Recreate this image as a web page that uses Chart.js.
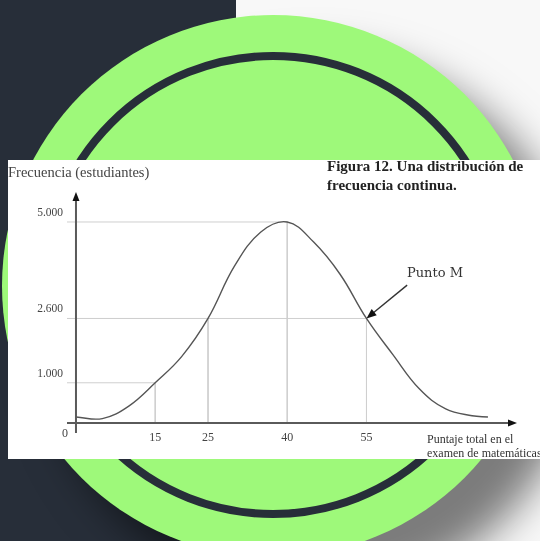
<!DOCTYPE html>
<html>
<head>
<meta charset="utf-8">
<script src="https://cdn.jsdelivr.net/npm/chart.js@4.4.1/dist/chart.umd.min.js"></script>
<style>
  html, body { margin: 0; padding: 0; }
  body { width: 540px; height: 541px; overflow: hidden; position: relative; background: #f8f8f8; }
  .dark { position: absolute; left: 0; top: 0; width: 236px; height: 541px; background: #272e39; }
  .circle { position: absolute; left: 2px; top: 15px; width: 542px; height: 542px; border-radius: 50%;
            background: #9ef97a; box-shadow: 40px 40px 40px rgba(0,0,0,.5); }
  .ring { position: absolute; left: 40px; top: 52px; width: 466px; height: 466px; border-radius: 50%;
          border: 8px solid #272e39; box-sizing: border-box; }
  .panel { position: absolute; left: 8px; top: 160px; width: 532px; height: 299px; background: #fff; overflow: hidden; }
</style>
</head>
<body>
<div class="dark"></div>
<div class="circle"></div>
<div class="ring"></div>
<div class="panel"><canvas id="curve" width="532" height="299"></canvas></div>

<script>
// puntaje (x) y frecuencia (y)
const scores   = [0, 5, 10, 15, 20, 25, 30, 35, 40, 45, 50, 55, 60, 65, 70, 75, 78];
const students = [150, 110, 420, 1000, 1650, 2600, 3900, 4750, 5000, 4500, 3700, 2600, 1700, 850, 350, 180, 150];

// líneas de referencia (punto de la curva marcado en cada eje)
const markX = [15, 25, 40, 55];
const markY = [1000, 2600, 5000, 2600];

const xTicks = [15, 25, 40, 55];
const yTicks = [1000, 2600, 5000];

const X_MIN = -1.7, X_MAX = 83.5;
const Y_MIN = -249, Y_MAX = 5746;

const fmt = v => String(v).replace(/\B(?=(\d{3})+(?!\d))/g, ".");

const refSets = markX.map((mx, i) => ({
  data: [{ x: X_MIN, y: markY[i] }, { x: mx, y: markY[i] }, { x: mx, y: 0 }],
  borderColor: "#cfcfcf",
  borderWidth: 1,
  pointRadius: 0,
  tension: 0
}));

const axesPlugin = {
  id: "axesPlugin",
  afterDatasetsDraw(chart) {
    const { ctx, scales: { x, y } } = chart;
    const x0 = x.getPixelForValue(0);
    const y0 = y.getPixelForValue(0);
    ctx.save();
    ctx.strokeStyle = "#5a5a5a";
    ctx.lineWidth = 2;
    ctx.beginPath();
    ctx.moveTo(x.left, y0); ctx.lineTo(x.right - 6, y0);
    ctx.moveTo(x0, y.bottom); ctx.lineTo(x0, y.top + 6);
    ctx.stroke();

    ctx.fillStyle = "#111";
    ctx.beginPath();
    ctx.moveTo(x.right, y0); ctx.lineTo(x.right - 9, y0 - 3.5); ctx.lineTo(x.right - 9, y0 + 3.5);
    ctx.closePath(); ctx.fill();
    ctx.beginPath();
    ctx.moveTo(x0, y.top); ctx.lineTo(x0 - 3.5, y.top + 9); ctx.lineTo(x0 + 3.5, y.top + 9);
    ctx.closePath(); ctx.fill();

    // flecha "Punto M"
    const tx = x.getPixelForValue(55), ty = y.getPixelForValue(2600);
    const sx = x.getPixelForValue(62.7), sy = y.getPixelForValue(3430);
    const ang = Math.atan2(ty - sy, tx - sx);
    ctx.strokeStyle = "#333";
    ctx.lineWidth = 1.4;
    ctx.beginPath();
    ctx.moveTo(sx, sy);
    ctx.lineTo(tx - 7 * Math.cos(ang), ty - 7 * Math.sin(ang));
    ctx.stroke();
    ctx.fillStyle = "#111";
    ctx.beginPath();
    ctx.moveTo(tx, ty);
    ctx.lineTo(tx - 10 * Math.cos(ang) + 4 * Math.sin(ang), ty - 10 * Math.sin(ang) - 4 * Math.cos(ang));
    ctx.lineTo(tx - 10 * Math.cos(ang) - 4 * Math.sin(ang), ty - 10 * Math.sin(ang) + 4 * Math.cos(ang));
    ctx.closePath(); ctx.fill();
    ctx.restore();
  },
  afterDraw(chart) {
    const { ctx, scales: { x, y } } = chart;
    ctx.save();
    ctx.textBaseline = "alphabetic";
    ctx.textAlign = "left";

    ctx.fillStyle = "#444";
    ctx.font = "14.5px 'Liberation Serif', serif";
    ctx.fillText("Frecuencia (estudiantes)", 0, 17);

    ctx.fillStyle = "#222";
    ctx.font = "bold 15px 'Liberation Serif', serif";
    ctx.fillText("Figura 12. Una distribución de", 319, 11);
    ctx.fillText("frecuencia continua.", 319, 30);

    ctx.fillStyle = "#333";
    ctx.font = "13px 'DejaVu Serif', serif";
    ctx.fillText("Punto M", 399, 117);

    ctx.font = "12px 'Liberation Serif', serif";
    ctx.fillText("Puntaje total en el", 419, 283);
    ctx.fillText("examen de matemáticas", 419, 297);

    ctx.fillStyle = "#444";
    ctx.font = "12px 'Liberation Serif', serif";
    ctx.textAlign = "center";
    ctx.fillText("0", x.getPixelForValue(0) - 11, y.bottom + 4);
    ctx.restore();
  }
};

new Chart(document.getElementById("curve"), {
  type: "line",
  data: {
    datasets: [{
      data: scores.map((s, i) => ({ x: s, y: students[i] })),
      borderColor: "#555",
      borderWidth: 1.4,
      pointRadius: 0,
      tension: 0.4
    }, ...refSets]
  },
  options: {
    responsive: false,
    animation: false,
    layout: { padding: { top: 32, right: 23, left: 0, bottom: 0 } },
    plugins: { legend: { display: false }, tooltip: { enabled: false } },
    scales: {
      x: {
        type: "linear",
        min: X_MIN,
        max: X_MAX,
        grid: { display: false, drawTicks: false },
        border: { display: false },
        afterBuildTicks: s => { s.ticks = xTicks.map(v => ({ value: v })); },
        afterFit: s => { s.height = 26; },
        ticks: {
          padding: -2,
          color: "#444",
          font: { family: "'Liberation Serif', serif", size: 12 }
        }
      },
      y: {
        min: Y_MIN,
        max: Y_MAX,
        grid: { display: false, drawTicks: false },
        border: { display: false },
        afterBuildTicks: s => { s.ticks = yTicks.map(v => ({ value: v })); },
        afterFit: s => { s.width = 59; },
        ticks: {
          padding: 4,
          labelOffset: -9,
          color: "#444",
          font: { family: "'Liberation Serif', serif", size: 11.5 },
          callback: v => fmt(v)
        }
      }
    }
  },
  plugins: [axesPlugin]
});
</script>
</body>
</html>
